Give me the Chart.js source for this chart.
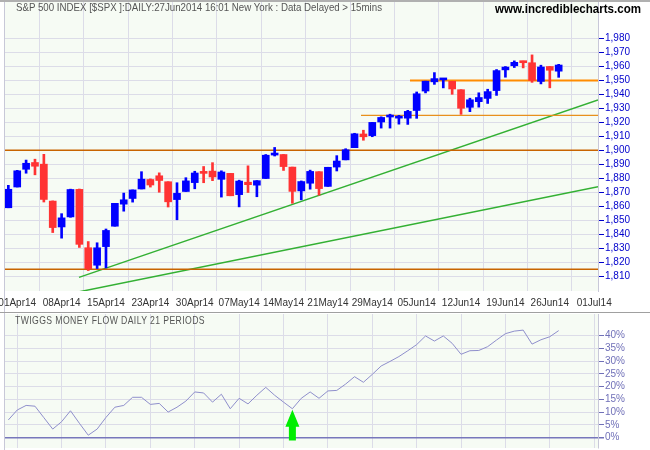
<!DOCTYPE html>
<html><head><meta charset="utf-8">
<script src="https://cdn.jsdelivr.net/npm/chart.js@4.4.1/dist/chart.umd.min.js"></script>
<style>
html,body{margin:0;padding:0;background:#fff;}
#wrap{position:relative;width:650px;height:450px;overflow:hidden;background:#fff;}
canvas{position:absolute;left:0;}
#c1{top:0;} #c2{top:312px;}
.t{position:absolute;font-family:'Liberation Sans',Arial,sans-serif;white-space:nowrap;transform-origin:0 0;line-height:12px;}
.ln{position:absolute;left:0;width:650px;height:1px;background:#a0a0a0;}
</style></head>
<body><div id="wrap">
<canvas id="c1" width="650" height="312"></canvas>
<canvas id="c2" width="650" height="138"></canvas>
<div class="ln" style="top:0;height:2px;background:#b0b0b0"></div>
<div class="ln" style="top:312px;"></div>
<div class="t" data-w="366" style="left:16px;top:1px;font-size:11px;color:#555;">S&amp;P 500 INDEX [$SPX ]:DAILY:27Jun2014 16:01 New York : Data Delayed &gt; 15mins</div>
<div class="t" data-w="146" style="left:495px;top:3px;font-weight:bold;font-size:12.5px;color:#000;">www.incrediblecharts.com</div>
<div class="t" data-w="190" style="left:15px;top:314px;font-size:11px;color:#555;letter-spacing:0.5px">TWIGGS MONEY FLOW DAILY 21 PERIODS</div>
</div>
<script>
// ---- data (index -1 = 31 Mar 2014, 0 = 01 Apr 2014, ... trading days) ----
const days = ['31Mar','01Apr','02Apr','03Apr','04Apr','07Apr','08Apr','09Apr','10Apr','11Apr','14Apr','15Apr','16Apr','17Apr','21Apr','22Apr','23Apr','24Apr','25Apr','28Apr','29Apr','30Apr',
 '01May','02May','05May','06May','07May','08May','09May','12May','13May','14May','15May','16May','19May','20May','21May','22May','23May','27May','28May','29May','30May',
 '02Jun','03Jun','04Jun','05Jun','06Jun','09Jun','10Jun','11Jun','12Jun','13Jun','16Jun','17Jun','18Jun','19Jun','20Jun','23Jun','24Jun','25Jun','26Jun','27Jun'];
const firstIndex = -1;
const open  = [1859.16,1873.96,1886.61,1891.43,1890.25,1863.92,1845.48,1852.64,1872.28,1830.65,1818.18,1831.45,1846.01,1861.73,1865.79,1872.57,1879.32,1881.97,1877.72,1865.00,1870.78,1877.10,
 1884.39,1885.30,1879.45,1883.69,1868.53,1877.39,1875.27,1880.03,1896.75,1897.13,1888.16,1871.19,1876.66,1884.88,1874.40,1888.19,1893.32,1902.01,1911.77,1910.60,1920.33,
 1923.87,1923.07,1923.06,1928.52,1942.41,1948.97,1950.34,1949.37,1943.35,1930.80,1934.84,1937.15,1942.73,1957.50,1960.45,1962.92,1962.58,1949.27,1959.89,1956.56];
const high  = [1875.18,1885.84,1893.17,1893.80,1897.28,1864.04,1854.95,1872.43,1872.53,1835.07,1834.19,1844.02,1862.31,1869.63,1871.89,1884.89,1879.75,1884.06,1877.72,1877.01,1880.60,1885.20,
 1888.59,1891.33,1885.51,1883.69,1878.83,1889.07,1878.57,1897.13,1902.17,1897.13,1888.16,1878.28,1886.00,1884.88,1888.03,1896.33,1901.26,1912.28,1914.46,1920.03,1924.03,
 1925.88,1925.07,1928.63,1941.74,1949.44,1955.55,1950.86,1949.37,1943.35,1937.30,1941.15,1943.69,1957.74,1959.87,1963.91,1963.74,1968.17,1960.83,1959.89,1961.47];
const low   = [1859.16,1873.96,1883.79,1882.65,1863.26,1841.48,1837.49,1852.38,1830.87,1814.36,1815.80,1816.29,1846.01,1856.72,1863.18,1872.57,1873.91,1870.24,1859.70,1850.61,1870.78,1872.69,
 1877.01,1878.50,1866.77,1867.72,1859.79,1870.05,1867.02,1880.03,1896.06,1885.77,1862.36,1864.82,1872.42,1868.14,1874.40,1885.39,1893.32,1902.01,1907.30,1909.82,1915.98,
 1915.98,1918.79,1918.60,1922.93,1941.06,1947.16,1944.64,1940.08,1925.78,1927.69,1930.91,1933.55,1939.29,1952.26,1959.17,1958.89,1948.60,1947.49,1944.69,1952.18];
const close = [1872.34,1885.52,1890.90,1888.77,1865.09,1845.04,1851.96,1872.18,1833.08,1815.69,1830.61,1842.98,1862.31,1864.85,1871.89,1879.55,1875.39,1878.61,1863.40,1869.43,1878.33,1883.95,
 1883.68,1881.14,1884.66,1867.72,1878.21,1875.63,1878.48,1896.65,1897.45,1888.53,1870.85,1877.86,1885.08,1872.83,1888.03,1892.49,1900.53,1911.91,1909.78,1920.03,1923.57,
 1924.97,1924.24,1927.88,1940.46,1949.44,1951.27,1950.79,1943.89,1930.11,1936.16,1937.78,1941.99,1956.98,1959.48,1962.87,1962.61,1949.98,1959.53,1957.22,1960.96];
// Twiggs money flow (%)
const tmf = [6.9,10.8,12.6,12.3,7.8,3.3,6.2,10.5,5.6,0.9,
 3.3,7.9,11.9,12.6,15.8,15.8,13.0,13.4,10.0,11.9,
 14.3,17.9,17.5,13.9,17.0,11.3,15.4,13.2,16.6,19.7,
 16.6,13.9,11.3,15.4,17.9,15.4,18.3,18.5,21.0,23.9,
 21.7,24.8,28.1,29.9,31.8,34.1,36.5,39.9,37.9,39.9,
 37.0,32.7,34.1,34.2,35.7,38.3,40.8,41.8,42.2,36.7,
 38.4,39.6,42.0];
// axis ticks
const xTickIdx = [0,5,10,15,20,25,30,35,40,45,50,55,60,65];
const xTickLabels = ['01Apr14','08Apr14','15Apr14','23Apr14','30Apr14','07May14','14May14','21May14','29May14','05Jun14','12Jun14','19Jun14','26Jun14','01Jul14'];
const priceTicks = [1810,1820,1830,1840,1850,1860,1870,1880,1890,1900,1910,1920,1930,1940,1950,1960,1970,1980];
const tmfTicks = [0,5,10,15,20,25,30,35,40];
// horizontal support / resistance levels and their start index
const levelValues = [1900.1,1815.4,1950.0,1925.1];
const levelStart  = [-1.49,-1.49,44.25,38.73];
// trend lines [index, price]
const trendA = [[6.96,1809.5],[65.43,1936.0]];
const trendB = [[5.0,1796.7],[65.43,1874.2]];
const signalIdx = 31;      // green arrow under TMF
const signalBase = -1.2;   // % value where arrow ends

// ---- fit header texts to their widths ----
document.querySelectorAll('.t[data-w]').forEach(el=>{
  const w = el.getBoundingClientRect().width;
  el.style.transform = 'scaleX(' + (parseFloat(el.dataset.w)/w) + ')';
});

// ---- view ----
const X_MIN = -1.49, X_MAX = 65.43;
const F = "'Liberation Sans',Arial,sans-serif";
const GRID = '#dcdce8';
const idx = close.map((_, i) => i + firstIndex);
const colors = close.map((c, i) => c >= open[i] ? '#0000ff' : '#ff3333');

const bgPlugin = {id:'bg', beforeDraw(c){const a=c.chartArea, ctx=c.ctx; ctx.save(); ctx.fillStyle='#f6fbf4'; ctx.fillRect(a.left,a.top,a.right-a.left,a.bottom-a.top); ctx.restore();},
  afterDraw(c){const a=c.chartArea, ctx=c.ctx; ctx.save(); ctx.strokeStyle='#c8c8d8'; ctx.lineWidth=1; ctx.beginPath(); ctx.moveTo(a.left+0.5,0); ctx.lineTo(a.left+0.5,c.height); ctx.stroke(); ctx.restore();}};

const noPad = s => { s.paddingLeft=0; s.paddingRight=0; s.paddingTop=0; s.paddingBottom=0; };

const lineDs = (pts, color, w) => ({type:'line', data: pts.map(p=>({x:p[0], y:p[1]})), borderColor:color, borderWidth:w, pointRadius:0, fill:false, order:2});

const datasets = [
  {type:'bar', data: idx.map((x,i)=>({x, y:[open[i], close[i]]})), backgroundColor: colors, barThickness:7, minBarLength:2, grouped:false, borderSkipped:false, order:0},
  {type:'bar', data: idx.map((x,i)=>({x, y:[low[i], high[i]]})), backgroundColor: colors, barThickness:2, grouped:false, borderSkipped:false, order:1}
];
const levelColors = ['#c86400','#c86400','#ff8c00','#e8901c'];
const levelWidths = [1.5,1.5,2,1.3];
levelValues.forEach((v,k)=>{
  datasets.push(lineDs([[levelStart[k],v],[X_MAX,v]], levelColors[k], levelWidths[k]));
});
datasets.push(lineDs(trendA, '#33b033', 1.5));
datasets.push(lineDs(trendB, '#33b033', 1.5));

new Chart(document.getElementById('c1'), {
  type:'bar',
  data:{datasets},
  options:{
    responsive:false, animation:false, devicePixelRatio:1,
    layout:{padding:{left:4, top:2, right:0, bottom:0}},
    plugins:{legend:{display:false}, tooltip:{enabled:false}},
    scales:{
      x:{type:'linear', min:X_MIN, max:X_MAX, offset:false,
        afterBuildTicks:s=>{s.ticks = xTickIdx.map(v=>({value:v}));},
        ticks:{callback:v=>{const k=xTickIdx.indexOf(v); return k<0?'':xTickLabels[k];}, color:'#333', font:{family:F,size:10}, padding:6, maxRotation:0, autoSkip:false},
        grid:{color:GRID, drawTicks:false}, border:{display:false},
        afterFit:s=>{s.height=21; noPad(s);}
      },
      y:{position:'right', min:1799.8, max:2005.9,
        afterBuildTicks:s=>{s.ticks = priceTicks.map(v=>({value:v}));},
        ticks:{callback:v=>v.toLocaleString('en-US'), color:'#0000cc', font:{family:F,size:10}, padding:1},
        grid:{color:GRID, tickLength:6, tickColor:'#0000cc'}, border:{color:'#c8c8d8'},
        afterFit:s=>{s.width=52; noPad(s);}
      }
    }
  },
  plugins:[bgPlugin]
});

const arrowPlugin = {id:'arrow', afterDatasetsDraw(c){
  const xs=c.scales.x, ys=c.scales.y, ctx=c.ctx;
  const x = xs.getPixelForValue(signalIdx);
  const tip = ys.getPixelForValue(tmf[signalIdx-firstIndex]) + 1;
  const base = ys.getPixelForValue(signalBase);
  const headH = 17, headW = 7, shaftW = 3.5;
  ctx.save(); ctx.fillStyle='#00ee00';
  ctx.beginPath(); ctx.moveTo(x, tip); ctx.lineTo(x+headW, tip+headH); ctx.lineTo(x+shaftW, tip+headH); ctx.lineTo(x+shaftW, base);
  ctx.lineTo(x-shaftW, base); ctx.lineTo(x-shaftW, tip+headH); ctx.lineTo(x-headW, tip+headH); ctx.closePath(); ctx.fill(); ctx.restore();
}};

new Chart(document.getElementById('c2'), {
  type:'line',
  data:{datasets:[{data: idx.map((x,i)=>({x, y:tmf[i]})), borderColor:'#8f8fcc', borderWidth:1, pointRadius:0, fill:false, tension:0}]},
  options:{
    responsive:false, animation:false, devicePixelRatio:1,
    layout:{padding:{left:4, top:2, right:0, bottom:2}},
    plugins:{legend:{display:false}, tooltip:{enabled:false}},
    scales:{
      x:{type:'linear', min:X_MIN, max:X_MAX, offset:false,
        afterBuildTicks:s=>{s.ticks = xTickIdx.map(v=>({value:v}));},
        ticks:{display:false}, grid:{color:GRID, drawTicks:false}, border:{display:false},
        afterFit:s=>{s.height=0; noPad(s);}
      },
      y:{position:'right', min:-4.13, max:48.53,
        afterBuildTicks:s=>{s.ticks = tmfTicks.map(v=>({value:v}));},
        ticks:{callback:v=>v+'%', color:'#7070b8', font:{family:F,size:10}, padding:1},
        grid:{color:ctx=>ctx.tick && ctx.tick.value===0 ? '#7777bb' : GRID, lineWidth:ctx=>ctx.tick && ctx.tick.value===0 ? 1.5 : 1, tickLength:6, tickColor:'#7070b8'},
        border:{color:'#c8c8d8'},
        afterFit:s=>{s.width=52; noPad(s);}
      }
    }
  },
  plugins:[bgPlugin, arrowPlugin]
});
</script>
</body></html>
